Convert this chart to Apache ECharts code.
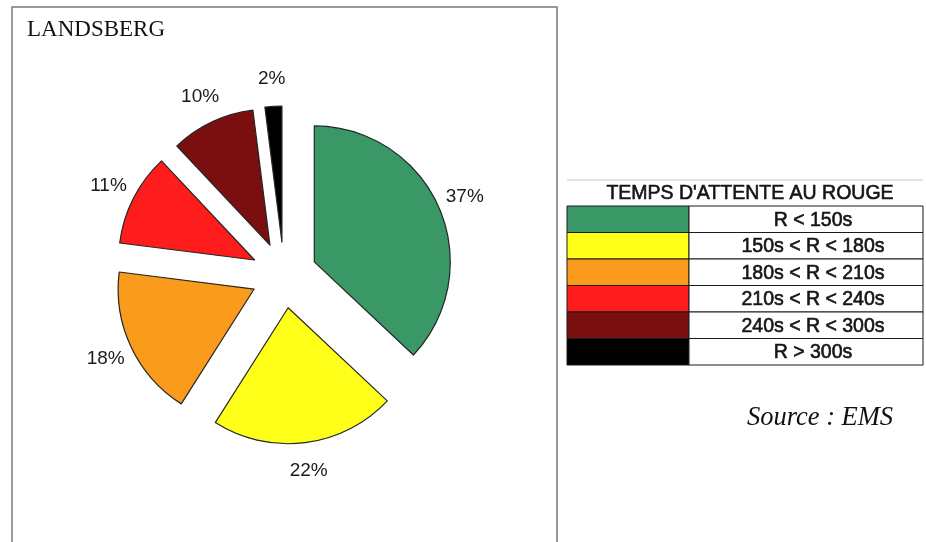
<!DOCTYPE html>
<html>
<head>
<meta charset="utf-8">
<script src="https://cdn.jsdelivr.net/npm/echarts@6/dist/echarts.min.js"></script>
<style>
  html, body { margin: 0; padding: 0; background: #ffffff; }
  #chart { width: 926px; height: 542px; }
</style>
</head>
<body>
<div id="chart"></div>
<script>
// Waiting time at red light, Landsberg
const chartTitle = 'LANDSBERG';
const legendTitle = "TEMPS D'ATTENTE AU ROUGE";
const sourceNote = 'Source : EMS';
const classes = ['R < 150s', '150s < R < 180s', '180s < R < 210s', '210s < R < 240s', '240s < R < 300s', 'R > 300s'];
const shares = [37, 22, 18, 11, 10, 2];
const colors = ['#3a9866', '#ffff19', '#fa9b1b', '#fe1c1c', '#7b0e0e', '#000000'];

const chart = echarts.init(document.getElementById('chart'), null, { renderer: 'canvas' });

const pieCenter = [284, 275];
const explode = 33;

const slices = classes.map((name, i) => ({
  name: name,
  value: shares[i],
  selected: true,
  itemStyle: { color: colors[i] }
}));

const labelSlices = classes.map((name, i) => ({
  name: name,
  value: shares[i],
  selected: true,
  itemStyle: { color: 'rgba(0,0,0,0)', borderWidth: 0 }
}));

// Legend table on the right
const tbl = { x0: 567, xs: 689, x1: 923, top: 180, head: 26, row: 26.5 };
const tableFont = '19.5px "Liberation Sans", Arial, sans-serif';
const graphics = [];

// frame around the pie
graphics.push({
  type: 'rect', silent: true,
  shape: { x: 12, y: 7, width: 545, height: 570 },
  style: { fill: 'none', stroke: '#7a7a7a', lineWidth: 1.5 }
});

// header
graphics.push({
  type: 'line', silent: true,
  shape: { x1: tbl.x0, y1: tbl.top, x2: tbl.x1, y2: tbl.top },
  style: { stroke: '#c8c8c8', lineWidth: 1 }
});
graphics.push({
  type: 'text', silent: true,
  style: {
    text: legendTitle, x: (tbl.x0 + tbl.x1) / 2 + 5, y: tbl.top + tbl.head / 2 + 1,
    align: 'center', verticalAlign: 'middle', textAlign: 'center', textVerticalAlign: 'middle',
    font: tableFont, fill: '#151515', stroke: '#151515', lineWidth: 0.6
  }
});

const bodyTop = tbl.top + tbl.head;
classes.forEach((name, i) => {
  const y = bodyTop + i * tbl.row;
  graphics.push({
    type: 'rect', silent: true,
    shape: { x: tbl.x0, y: y, width: tbl.xs - tbl.x0, height: tbl.row },
    style: { fill: colors[i], stroke: '#1a1a1a', lineWidth: 1 }
  });
  graphics.push({
    type: 'rect', silent: true,
    shape: { x: tbl.xs, y: y, width: tbl.x1 - tbl.xs, height: tbl.row },
    style: { fill: '#ffffff', stroke: '#1a1a1a', lineWidth: 1 }
  });
  graphics.push({
    type: 'text', silent: true,
    style: {
      text: name, x: (tbl.xs + tbl.x1) / 2 + 7, y: y + tbl.row / 2 + 1,
      align: 'center', verticalAlign: 'middle', textAlign: 'center', textVerticalAlign: 'middle',
      font: tableFont, fill: '#151515', stroke: '#151515', lineWidth: 0.6
    }
  });
});

// source note
graphics.push({
  type: 'text', silent: true,
  style: {
    text: sourceNote, x: 820, y: 418,
    align: 'center', verticalAlign: 'middle', textAlign: 'center', textVerticalAlign: 'middle',
    font: 'italic 26.5px "Liberation Serif", "Times New Roman", serif', fill: '#111111'
  }
});

chart.setOption({
  animation: false,
  backgroundColor: '#ffffff',
  title: {
    text: chartTitle, left: 27, top: 18, padding: 0,
    textStyle: { fontFamily: '"Liberation Serif", "Times New Roman", serif', fontSize: 23, fontWeight: 'normal', color: '#111111' }
  },
  graphic: graphics,
  series: [
    {
      type: 'pie',
      center: pieCenter,
      radius: 136,
      startAngle: 90,
      clockwise: true,
      selectedMode: 'multiple',
      selectedOffset: explode,
      avoidLabelOverlap: false,
      data: slices,
      label: { show: false },
      labelLine: { show: false },
      itemStyle: { borderColor: '#262626', borderWidth: 1.2 },
      select: { itemStyle: { borderColor: '#262626', borderWidth: 1.2 } },
      emphasis: { disabled: true, scale: false }
    },
    {
      // transparent ring that carries the percentage labels just outside each slice
      type: 'pie',
      center: pieCenter,
      radius: [148, 174],
      startAngle: 90,
      clockwise: true,
      selectedMode: 'multiple',
      selectedOffset: explode,
      avoidLabelOverlap: false,
      silent: true,
      data: labelSlices,
      label: {
        show: true, position: 'inside', formatter: '{c}%',
        fontFamily: '"Liberation Sans", Arial, sans-serif', fontSize: 19, color: '#1a1a1a'
      },
      labelLine: { show: false },
      select: { itemStyle: { color: 'rgba(0,0,0,0)', borderWidth: 0 } },
      emphasis: { disabled: true, scale: false }
    }
  ]
});
</script>
</body>
</html>
